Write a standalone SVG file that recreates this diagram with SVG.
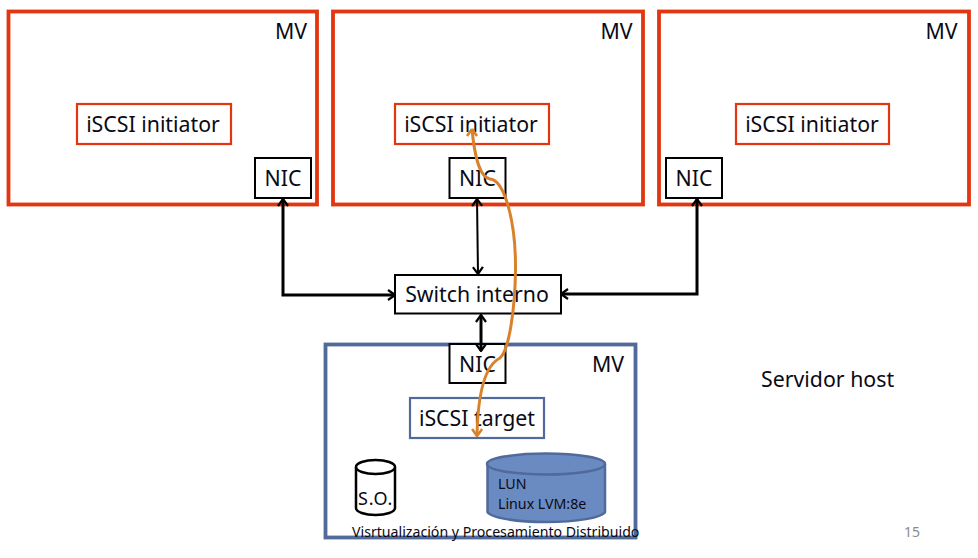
<svg xmlns="http://www.w3.org/2000/svg" width="978" height="558" viewBox="0 0 978 558">
<style>
text{font-family:"Noto Sans","Open Sans","Liberation Sans",sans-serif;fill:#0a0a14}
.l{font-size:21.300px;text-anchor:middle}
.mv{fill:none;stroke:#e23510;stroke-width:3.800}
.in{fill:#fff;stroke:#e23510;stroke-width:2.200}
.nic{fill:#fff;stroke:#000;stroke-width:2}
.bl{fill:none;stroke:#4f6a9b}
.c3{fill:none;stroke:#000;stroke-width:3}
.c2{fill:none;stroke:#000;stroke-width:2}
</style>
<defs>
<marker id="a" viewBox="-8 -6 9 12" refX="0" refY="0" markerWidth="9" markerHeight="12" markerUnits="userSpaceOnUse" orient="auto-start-reverse"><path d="M-7,-5 L0,0 L-7,5" fill="none" stroke="#000" stroke-width="2.200"/></marker>
<marker id="o" viewBox="-8 -6 9 12" refX="0" refY="0" markerWidth="9" markerHeight="12" markerUnits="userSpaceOnUse" orient="auto"><path d="M-7,-5 L0,0 L-7,5" fill="none" stroke="#d9822b" stroke-width="2.600"/></marker>
</defs>
<rect width="978" height="558" fill="#fff"/>
<g id="mv1"><rect class="mv" x="8.500" y="11.500" width="308.500" height="193"/><text class="l" x="291" y="39">MV</text></g>
<g id="mv2"><rect class="mv" x="333" y="11.500" width="310" height="193"/><text class="l" x="616.500" y="39">MV</text></g>
<g id="mv3"><rect class="mv" x="659" y="11.500" width="310" height="193"/><text class="l" x="941.500" y="39">MV</text></g>
<g id="mv4"><rect class="bl" stroke-width="3.800" x="325.500" y="344.500" width="310" height="193"/><text class="l" x="608" y="372">MV</text></g>
<g id="init1"><rect class="in" x="77" y="104" width="154" height="40"/><text class="l" x="153" y="132">iSCSI initiator</text></g>
<g id="init2"><rect class="in" x="395" y="104" width="154" height="40"/><text class="l" x="471" y="132">iSCSI initiator</text></g>
<g id="init3"><rect class="in" x="736" y="104" width="153" height="40"/><text class="l" x="812" y="132">iSCSI initiator</text></g>
<g id="nic1"><rect class="nic" x="255" y="158" width="56" height="40"/><text class="l" x="283" y="186">NIC</text></g>
<g id="nic2"><rect class="nic" x="449.500" y="158" width="56" height="40"/><text class="l" x="477.500" y="186">NIC</text></g>
<g id="nic3"><rect class="nic" x="666" y="158" width="56" height="40"/><text class="l" x="694" y="186">NIC</text></g>
<g id="nic4"><rect class="nic" x="449.500" y="344" width="56" height="39"/><text class="l" x="477.500" y="372">NIC</text></g>
<g id="switch"><rect class="nic" x="395" y="275" width="166" height="38.500"/><text class="l" x="477" y="302">Switch interno</text></g>
<g id="target"><rect class="bl" stroke-width="2.200" fill="#fff" x="410" y="398" width="134" height="40"/><text class="l" x="477" y="426">iSCSI target</text></g>
<g id="so"><path d="M356,467 V508 A19.500,7 0 0 0 395,508 V467" fill="#fff" stroke="#000" stroke-width="2.500"/><ellipse cx="375.500" cy="467" rx="19.500" ry="7" fill="#fff" stroke="#000" stroke-width="2.500"/><text x="358" y="505" style="font-size:18px;letter-spacing:0.8px">S.O.</text></g>
<g id="lun"><path d="M487.500,464 V512 A59,11 0 0 0 605,512 V464" fill="#6a8bc2" stroke="#4f6a9b" stroke-width="2.500"/><ellipse cx="546" cy="464" rx="59" ry="10.500" fill="#6a8bc2" stroke="#4f6a9b" stroke-width="2.500"/><text x="498" y="489" style="font-size:14.200px">LUN</text><text x="498" y="509" style="font-size:14.200px">Linux LVM:8e</text></g>
<g id="connectors">
<path class="c3" d="M395,295 H283 V199" marker-start="url(#a)" marker-end="url(#a)"/>
<path class="c3" d="M561,294 H697 V199" marker-start="url(#a)" marker-end="url(#a)"/>
<path class="c2" d="M477,199 L478,274" marker-start="url(#a)" marker-end="url(#a)"/>
<path class="c3" d="M481,315 V351" marker-start="url(#a)" marker-end="url(#a)"/>
<path d="M472,129 C474,150 478,177 490,179 C504,180 516,220 515.500,270 C515,310 509,350 500,358 C488,364 478,385 477,436" fill="none" stroke="#d9822b" stroke-width="3" marker-end="url(#o)"/>
<path d="M472,129 L467,136 M472,129 L477,136" fill="none" stroke="#d9822b" stroke-width="2.600"/>
</g>
<text x="761" y="387" style="font-size:21.300px">Servidor host</text>
<text x="352" y="537" style="font-size:14.150px">Visrtualización y Procesamiento Distribuido</text>
<text x="904" y="537" style="font-size:14px;fill:#8b8b8b">15</text>
</svg>
